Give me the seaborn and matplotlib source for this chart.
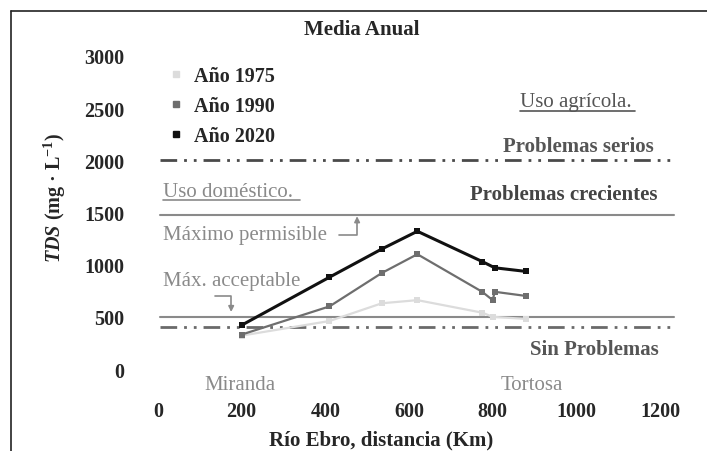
import numpy as np
import pandas as pd
import seaborn as sns
import matplotlib.pyplot as plt
from matplotlib.lines import Line2D

sns.set_style("white")
plt.rcParams["font.family"] = ["Liberation Serif", "DejaVu Serif"]
plt.rcParams["mathtext.fontset"] = "custom"
plt.rcParams["mathtext.rm"] = "Liberation Serif:bold"
plt.rcParams["mathtext.it"] = "Liberation Serif:italic:bold"

# data (distance in km, TDS in mg/L)
km_1975 = [200, 410, 535, 620, 775, 800, 880]
tds_1975 = [320, 460, 630, 660, 540, 500, 480]
km_1990 = [200, 410, 535, 620, 775, 800, 805, 880]
tds_1990 = [330, 600, 920, 1100, 740, 660, 740, 700]
km_2020 = [200, 410, 535, 620, 775, 805, 880]
tds_2020 = [420, 880, 1150, 1320, 1030, 970, 935]

years = ["Año 1975", "Año 1990", "Año 2020"]
colors = {"Año 1975": "#dcdcdc", "Año 1990": "#6e6e6e", "Año 2020": "#111111"}

# guide levels
level_serios = 2000
level_crecientes = 1480
level_permisible = 500
level_sin = 400

df = pd.concat([
    pd.DataFrame({"km": km_1975, "tds": tds_1975, "year": years[0]}),
    pd.DataFrame({"km": km_1990, "tds": tds_1990, "year": years[1]}),
    pd.DataFrame({"km": km_2020, "tds": tds_2020, "year": years[2]}),
])

fig = plt.figure(figsize=(7.07, 4.52), dpi=100)
ax = fig.add_axes([0.2116, 0.1352, 0.7456, 0.785])

dashdot2 = (0, (6, 2.5, 1, 2.5, 1, 2.5))
ax.axhline(level_serios, xmin=0.02, xmax=0.995, color="#4a4a4a", lw=2, ls=dashdot2)
ax.axhline(level_crecientes, xmin=0.02, xmax=0.995, color="#8a8a8a", lw=1.5)
ax.axhline(level_permisible, xmin=0.02, xmax=0.995, color="#8a8a8a", lw=1.5)
ax.axhline(level_sin, xmin=0.02, xmax=0.995, color="#6a6a6a", lw=2, ls=dashdot2)

sns.lineplot(data=df, x="km", y="tds", hue="year", palette=colors, sort=False,
             estimator=None, marker="s", markersize=4, markeredgewidth=0,
             linewidth=1.6, legend=False, ax=ax)
ax.lines[-1].set_linewidth(2.2)

ax.set_xlim(-20, 1240)
ax.set_ylim(-200, 3200)
ax.set_xticks([0, 200, 400, 600, 800, 1000, 1200])
ax.set_yticks([0, 500, 1000, 1500, 2000, 2500, 3000])
ax.tick_params(axis="y", pad=18, labelsize=14.5, length=0)
ax.tick_params(axis="x", pad=8, labelsize=14.5, length=0)
for lab in ax.get_xticklabels() + ax.get_yticklabels():
    lab.set_fontweight("bold")
ax.set_xlabel("")
ax.set_ylabel("")
for s in ax.spines.values():
    s.set_visible(False)

handles = [Line2D([], [], ls="none", marker="s", markersize=5, color=colors[y]) for y in years]
leg = ax.legend(handles, years, loc="upper left", bbox_to_anchor=(0.0, 0.965),
                frameon=False, handlelength=0.8, handletextpad=0.5, labelspacing=0.5,
                prop={"weight": "bold", "size": 14.5})

txt = dict(fontsize=15, va="center", ha="left")
ax.text(866, 2560, "Uso agrícola.", color="#555555", **txt)
ax.plot([866, 1141], [2470, 2470], color="#555555", lw=1.2)
ax.text(825, 2138, "Problemas serios", color="#555555", fontweight="bold", **txt)
ax.text(12, 1697, "Uso doméstico.", color="#8a8a8a", **txt)
ax.plot([12, 340], [1615, 1615], color="#8a8a8a", lw=1.2)
ax.text(746, 1678, "Problemas crecientes", color="#444444", fontweight="bold", **txt)
ax.text(12, 1285, "Máximo permisible", color="#8a8a8a", **txt)
ax.text(12, 844, "Máx. acceptable", color="#8a8a8a", **txt)
ax.text(890, 192, "Sin Problemas", color="#555555", fontweight="bold", **txt)
ax.text(112, -144, "Miranda", color="#8a8a8a", **txt)
ax.text(818, -144, "Tortosa", color="#8a8a8a", **txt)

ax.annotate("", xy=(476, 1490), xytext=(425, 1285),
            arrowprops=dict(arrowstyle="-|>", color="#8a8a8a", lw=1.2,
                            mutation_scale=8,
                            connectionstyle="angle,angleA=0,angleB=90,rad=0"))
ax.annotate("", xy=(175, 520), xytext=(130, 700),
            arrowprops=dict(arrowstyle="-|>", color="#8a8a8a", lw=1.2,
                            mutation_scale=8,
                            connectionstyle="angle,angleA=0,angleB=90,rad=0"))

fig.text(362 / 707, 1 - 30 / 452, "Media Anual", ha="center", va="center",
         fontsize=15, fontweight="bold")
fig.text(381 / 707, 1 - 440 / 452, "Río Ebro, distancia (Km)", ha="center",
         va="center", fontsize=15, fontweight="bold")
fig.text(55 / 707, 1 - 198 / 452, r"$\mathit{TDS}$ (mg · L$^{-1}$)", rotation=90,
         ha="center", va="center", fontsize=14.5, fontweight="bold")

# frame around the figure
fig.add_artist(Line2D([11 / 707, 1.0], [1 - 12 / 452, 1 - 12 / 452], color="#222222", lw=1.2))
fig.add_artist(Line2D([11 / 707, 11 / 707], [0, 1 - 12 / 452], color="#222222", lw=1.2))

fig.savefig("out.png", dpi=100)
